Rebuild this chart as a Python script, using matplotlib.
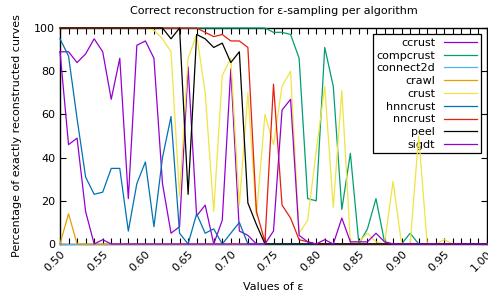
import numpy as np
import matplotlib
matplotlib.use("Agg")
import matplotlib.pyplot as plt
from matplotlib.ticker import MultipleLocator

eps = [round(0.50 + 0.01 * i, 2) for i in range(51)]

ccrust = [89, 89, 84, 88, 95, 89, 67, 86, 21, 92, 94, 86, 28, 5, 8, 82, 13, 18, 0, 11,
          81, 6, 4, 0, 0] + [0] * 26
compcrust = [100] * 25 + [98, 98, 97, 86, 21, 20, 91, 73, 16, 42, 0, 7, 21, 1, 0, 0, 5] + [0] * 9
connect2d = [0] * 51
crawl = [0, 14] + [0] * 49
crust = [100] * 11 + [99, 95, 89, 22, 86, 97, 70, 15, 78, 86, 18, 70, 13, 60, 46, 73, 80, 5, 11,
                      43, 73, 17, 71, 1, 1, 5, 1, 0, 29, 0, 0, 50, 0, 0, 2] + [0] * 5
hnncrust = [95, 87, 58, 31, 23, 24, 35, 35, 6, 28, 38, 8, 40, 59, 5, 0, 14, 5, 7, 0,
            5, 10, 0] + [0] * 28
nncrust = [100] * 17 + [98, 96, 97, 94, 94, 91, 15, 1, 74, 18, 12, 2, 1] + [0] * 21
peel = [100] * 13 + [95, 100, 23, 97, 95, 91, 93, 84, 89, 19, 9] + [0] * 27
sigdt = [89, 46, 49, 15, 0, 2] + [0] * 19 + [6, 62, 67, 4, 1, 0, 2, 0, 12, 1, 1, 1, 5, 1] + [0] * 12

series = [
    ("ccrust", ccrust, "#9400d3"),
    ("compcrust", compcrust, "#009e73"),
    ("connect2d", connect2d, "#56b4e9"),
    ("crawl", crawl, "#e69f00"),
    ("crust", crust, "#f0e442"),
    ("hnncrust", hnncrust, "#0072b2"),
    ("nncrust", nncrust, "#e51e10"),
    ("peel", peel, "#000000"),
    ("sigdt", sigdt, "#9400d3"),
]

plt.rcParams['font.family'] = ['DejaVu Sans']
fig = plt.figure(figsize=(4.88, 2.96), dpi=100)
ax = fig.add_axes([60 / 488, 52 / 296, 427 / 488, 216 / 296])

for name, vals, col in series:
    ax.plot(eps, vals, color=col, lw=0.9, label=name, zorder=3, clip_on=False)

ax.set_xlim(0.5, 1.0)
ax.set_ylim(0, 100)
ax.xaxis.set_major_locator(MultipleLocator(0.05))
ax.xaxis.set_minor_locator(MultipleLocator(0.01))
ax.yaxis.set_major_locator(MultipleLocator(20))
ax.tick_params(axis='both', which='both', direction='in', top=True, right=True,
               labelsize=8, width=0.8)
ax.tick_params(axis='both', which='major', length=4)
ax.tick_params(axis='x', which='minor', length=4)
ax.set_xticks([round(0.5 + 0.05 * k, 2) for k in range(11)])
ax.set_xticklabels([f"{0.5 + 0.05 * k:.2f}" for k in range(11)], rotation=45,
                   ha='right', va='top', rotation_mode='anchor')
for s in ax.spines.values():
    s.set_linewidth(1.0)

ax.set_title("Correct reconstruction for ε-sampling per algorithm", fontsize=8, pad=10)
ax.set_xlabel("Values of ε", fontsize=8, labelpad=6)
ax.set_ylabel("Percentage of exactly reconstructed curves", fontsize=8, labelpad=9)

leg = ax.legend(loc='upper right', bbox_to_anchor=(0.985, 0.97), borderaxespad=0,
                fontsize=8, markerfirst=False, fancybox=False, framealpha=1,
                edgecolor='black', handlelength=3.0, labelspacing=0.25,
                borderpad=0.3, handletextpad=0.8)
leg.get_frame().set_linewidth(0.9)
leg.set_zorder(2.5)

fig.savefig("out.png", dpi=100)
